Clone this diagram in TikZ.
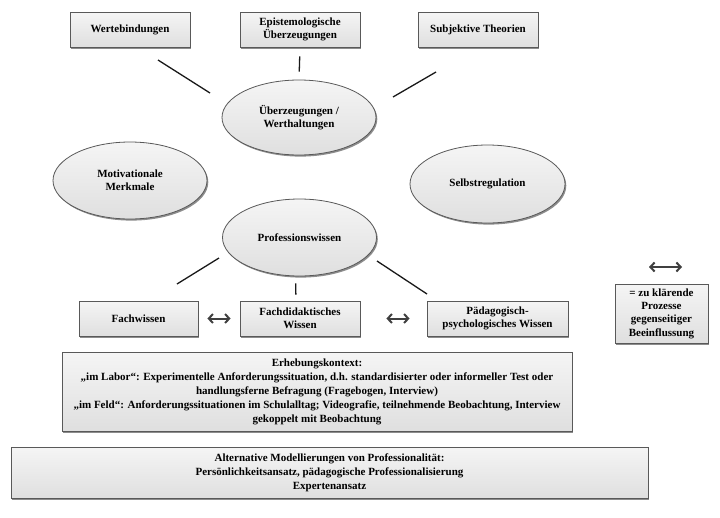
\documentclass[tikz,border=0pt]{standalone}
\usepackage{fontspec}
\setmainfont{Liberation Serif}
\usetikzlibrary{shapes.geometric,shadows,arrows.meta}
\begin{document}
\begin{tikzpicture}[x=1pt,y=-1pt,
  base/.style={draw=black!65, line width=0.8pt, top color=gray!8, bottom color=gray!25,
    drop shadow={shadow xshift=1.3pt, shadow yshift=-1.6pt, fill=black, opacity=0.45},
    inner sep=0pt, align=center, font=\bfseries\fontsize{11}{13}\selectfont},
  boxnode/.style={base, rectangle},
  ellnode/.style={base, ellipse, minimum width=154pt, minimum height=77pt},
  link/.style={line width=1.3pt, black!90},
  twoway/.style={line width=2pt, black!75, {Straight Barb[length=4.2pt,width=9pt]}-{Straight Barb[length=4.2pt,width=9pt]}}
]
\useasboundingbox[fill=white] (0,0) rectangle (720,517);

% top boxes
\node[boxnode, minimum width=120pt, minimum height=35pt] (wert) at (130,29.5) {Wertebindungen};
\node[boxnode, minimum width=120pt, minimum height=35pt] (epi) at (300,29.5) {Epistemologische\\Überzeugungen};
\node[boxnode, minimum width=120pt, minimum height=35pt] (subj) at (478,29.5) {Subjektive Theorien};

% ellipses
\node[ellnode, minimum height=75pt] (ueb) at (299,117.5) {Überzeugungen /\\Werthaltungen};
\node[ellnode] (mot) at (130,180.5) {Motivationale\\Merkmale};
\node[ellnode, minimum width=155pt, minimum height=78pt] (selbst) at (487.5,184) {Selbstregulation};
\node[ellnode] (prof) at (299.5,237.5) {Professionswissen};

% knowledge boxes
\node[boxnode, minimum width=119pt, minimum height=35pt] (fach) at (138.5,318.5) {Fachwissen};
\node[boxnode, minimum width=120pt, minimum height=35pt] (fachd) at (300,318.5) {Fachdidaktisches\\Wissen};
\node[boxnode, minimum width=141pt, minimum height=35pt] (paed) at (497.5,318.5) {Pädagogisch-\\psychologisches Wissen};

% legend
\node[boxnode, minimum width=93pt, minimum height=59pt, font=\bfseries\fontsize{11}{13.3}\selectfont] (leg) at (661.5,313.5) {= zu klärende\\Prozesse\\gegenseitiger\\Beeinflussung};
\coordinate (legA) at (649,267);
\coordinate (legB) at (682,267);
\draw[twoway] (legA) -- (legB);

% bottom boxes
\node[boxnode, minimum width=510pt, minimum height=79pt, font=\bfseries\fontsize{11}{14}\selectfont] (erh) at (317,391.5)
  {Erhebungskontext:\\„im Labor“: Experimentelle Anforderungssituation, d.h. standardisierter oder informeller Test oder\\handlungsferne Befragung (Fragebogen, Interview)\\„im Feld“: Anforderungssituationen im Schulalltag; Videografie, teilnehmende Beobachtung, Interview\\gekoppelt mit Beobachtung};
\node[boxnode, minimum width=637pt, minimum height=51pt, font=\bfseries\fontsize{11}{14}\selectfont] (alt) at (329.5,472.5)
  {Alternative Modellierungen von Professionalität:\\Persönlichkeitsansatz, pädagogische Professionalisierung\\Expertenansatz};

% connectors (free-floating segments)
\coordinate (l1a) at (158,60);  \coordinate (l1b) at (210,93);
\coordinate (l3a) at (393,97);  \coordinate (l3b) at (436,72);
\coordinate (l4a) at (219,258); \coordinate (l4b) at (177,284);
\coordinate (l6a) at (377,261); \coordinate (l6b) at (427,294);
\draw[link] (l1a) -- (l1b);
\draw[link, shorten <=9pt, shorten >=8pt] (epi.south) -- (ueb.north);
\draw[link] (l3a) -- (l3b);
\draw[link] (l4a) -- (l4b);
\draw[link, shorten <=7pt, shorten >=6pt] ([xshift=-4pt]prof.south) -- ([xshift=-4pt]fachd.north);
\draw[link] (l6a) -- (l6b);

% mutual-influence arrows
\draw[twoway, shorten <=9pt, shorten >=9pt] (fach.east) -- (fachd.west);
\draw[twoway, shorten <=26pt, shorten >=17pt] (fachd.east) -- (paed.west);
\end{tikzpicture}
\end{document}
